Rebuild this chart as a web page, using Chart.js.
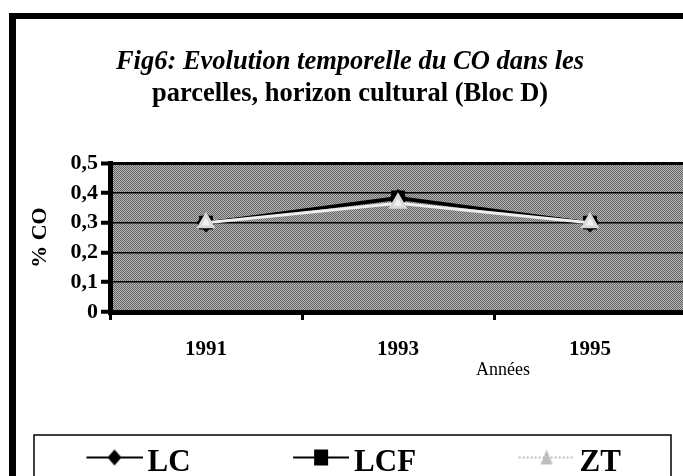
<!DOCTYPE html>
<html>
<head>
<meta charset="utf-8">
<script src="https://cdn.jsdelivr.net/npm/chart.js@4"></script>
<style>
  html, body { margin: 0; padding: 0; background: #fff; overflow: hidden; }
  #wrap { position: relative; width: 683px; height: 476px; overflow: hidden; }
  #coChart { position: absolute; left: -16px; top: 0; }
</style>
</head>
<body>
<div id="wrap"><canvas id="coChart" width="732" height="488"></canvas></div>
<script>
const years = ['1991', '1993', '1995'];
const lcValues = [0.30, 0.38, 0.30];
const lcfValues = [0.30, 0.385, 0.30];
const ztValues = [0.30, 0.365, 0.30];
const yTickLabels = ['0', '0,1', '0,2', '0,3', '0,4', '0,5'];
const seriesNames = ['LC', 'LCF', 'ZT'];
const titleLine1 = 'Fig6: Evolution temporelle du CO dans les';
const titleLine2 = 'parcelles, horizon cultural (Bloc D)';
const yTitle = '% CO';
const xTitle = 'Années';

const serif = "'Liberation Serif', 'Times New Roman', serif";

// little picture used as legend sample: line + marker
function legendSample(style, color) {
  const c = document.createElement('canvas');
  c.width = 159;
  c.height = 30;
  const g = c.getContext('2d');
  const x0 = 103, x1 = 159, y = 10, cx = 131;
  g.strokeStyle = color;
  g.lineWidth = 2;
  if (style === 'triangle') g.setLineDash([2, 2]);
  g.beginPath();
  g.moveTo(x0, y);
  g.lineTo(x1, y);
  g.stroke();
  g.setLineDash([]);
  g.fillStyle = color;
  g.beginPath();
  if (style === 'rectRot') {
    g.moveTo(cx, y - 8);
    g.lineTo(cx + 7, y);
    g.lineTo(cx, y + 8);
    g.lineTo(cx - 7, y);
  } else if (style === 'rect') {
    g.rect(cx - 7, y - 8, 14, 16);
  } else {
    g.moveTo(cx, y - 8);
    g.lineTo(cx + 6, y + 7);
    g.lineTo(cx - 6, y + 7);
  }
  g.closePath();
  g.fill();
  return c;
}

const samples = [
  legendSample('rectRot', '#000'),
  legendSample('rect', '#000'),
  legendSample('triangle', '#bdbdbd')
];

// frame, plot background, legend box and the x axis title
const decor = {
  id: 'decor',
  beforeDraw(chart) {
    const { ctx, chartArea } = chart;
    ctx.save();
    // outer frame (left + top visible)
    ctx.fillStyle = '#000';
    ctx.fillRect(25, 13, 7, chart.height);
    ctx.fillRect(25, 13, chart.width, 6);
    // dotted grey plot background
    const c = document.createElement('canvas');
    c.width = 2; c.height = 2;
    const g = c.getContext('2d');
    g.fillStyle = '#b4b4b4';
    g.fillRect(0, 0, 2, 2);
    g.fillStyle = '#666666';
    g.fillRect(0, 0, 1, 1);
    g.fillRect(1, 1, 1, 1);
    ctx.fillStyle = ctx.createPattern(c, 'repeat');
    ctx.fillRect(chartArea.left, chartArea.top, chartArea.right - chartArea.left, chartArea.bottom - chartArea.top);
    // legend box
    const lg = chart.legend;
    ctx.strokeStyle = '#000';
    ctx.lineWidth = 1.5;
    ctx.strokeRect(50, lg.top - 2, 637, chart.height);
    ctx.restore();
  },
  afterDraw(chart) {
    const ctx = chart.ctx;
    ctx.save();
    ctx.font = '18px ' + serif;
    ctx.fillStyle = '#000';
    ctx.textAlign = 'center';
    ctx.textBaseline = 'middle';
    ctx.fillText(xTitle, 519, 370);
    ctx.restore();
  }
};

new Chart(document.getElementById('coChart'), {
  type: 'line',
  data: {
    labels: years,
    datasets: [
      {
        label: seriesNames[0],
        data: lcValues,
        borderColor: '#000',
        backgroundColor: '#000',
        borderWidth: 2.5,
        pointStyle: 'rectRot',
        pointRadius: 8,
        tension: 0,
        order: 3
      },
      {
        label: seriesNames[1],
        data: lcfValues,
        borderColor: '#000',
        backgroundColor: '#000',
        borderWidth: 2.5,
        pointStyle: 'rect',
        pointRadius: 8,
        tension: 0,
        order: 2
      },
      {
        label: seriesNames[2],
        data: ztValues,
        borderColor: '#eeeeee',
        backgroundColor: '#f2f2f2',
        pointBorderColor: '#d8d8d8',
        borderWidth: 3,
        pointStyle: 'triangle',
        pointRadius: 8,
        tension: 0,
        order: 1
      }
    ]
  },
  options: {
    responsive: false,
    devicePixelRatio: 1,
    animation: false,
    layout: { padding: 0 },
    plugins: {
      title: {
        display: true,
        text: titleLine1,
        color: '#000',
        font: { family: serif, size: 26.5, weight: 'bold', style: 'italic' },
        padding: { top: 46, bottom: 0 }
      },
      subtitle: {
        display: true,
        text: titleLine2,
        color: '#000',
        font: { family: serif, size: 26.5, weight: 'bold' },
        padding: { top: 0, bottom: 53.5 }
      },
      legend: {
        position: 'bottom',
        align: 'start',
        labels: {
          color: '#000',
          font: { family: serif, size: 31, weight: 'bold' },
          usePointStyle: true,
          pointStyleWidth: 138,
          padding: 10,
          generateLabels: (chart) => chart.data.datasets.map((ds, i) => ({
            text: ds.label,
            pointStyle: samples[i],
            fillStyle: '#000',
            strokeStyle: '#000',
            lineWidth: 0,
            hidden: false,
            datasetIndex: i
          }))
        }
      },
      tooltip: { enabled: false }
    },
    scales: {
      x: {
        offset: true,
        grid: {
          offset: true,
          drawOnChartArea: false,
          drawTicks: true,
          tickLength: 8,
          tickWidth: 3,
          tickColor: '#000'
        },
        border: { color: '#000', width: 5 },
        ticks: {
          color: '#000',
          padding: 17,
          font: { family: serif, size: 21, weight: 'bold' }
        },
        afterFit: (s) => { s.height = 488 - 311 - 52; }
      },
      y: {
        min: 0,
        max: 0.5,
        ticks: {
          stepSize: 0.1,
          color: '#000',
          padding: 3,
          font: { family: serif, size: 22, weight: 'bold' },
          callback: (v, i) => yTickLabels[i]
        },
        grid: {
          color: '#000',
          lineWidth: (c) => (c.tick && c.tick.value >= 0.5 ? 3 : 1.5),
          tickLength: 9,
          tickWidth: 4,
          tickColor: '#000'
        },
        border: { color: '#000', width: 5 },
        title: {
          display: true,
          text: yTitle,
          color: '#000',
          font: { family: serif, size: 22, weight: 'bold' },
          padding: { top: 43 }
        },
        afterFit: (s) => { s.width = 126; }
      },
      yRight: {
        position: 'right',
        grid: { display: false },
        border: { display: false },
        ticks: { display: false },
        afterFit: (s) => { s.width = 732 - 702; }
      }
    }
  },
  plugins: [decor]
});
</script>
</body>
</html>
